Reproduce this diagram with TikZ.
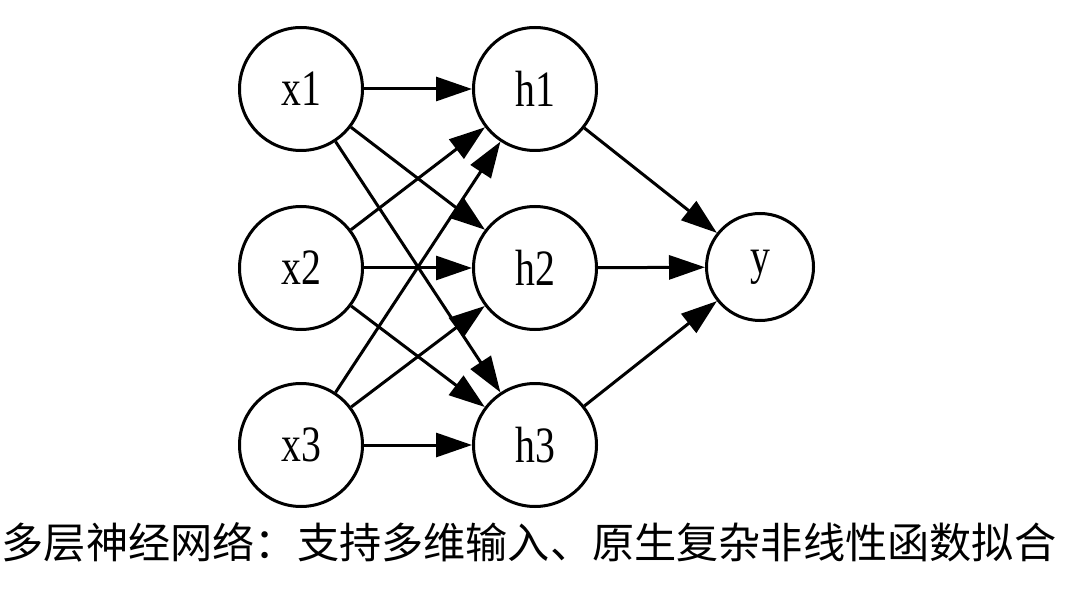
\documentclass[tikz,border=0pt]{standalone}
\usepackage{fontspec}
\setmainfont{Liberation Serif}
\newfontfamily\narrowserif[FakeStretch=0.78]{Liberation Serif}
\newfontfamily\cjk{Noto Sans CJK SC}
\usepackage{tikz}
\usetikzlibrary{arrows.meta,positioning}

\tikzset{
	neuron/.style={circle,draw,line width=0.06cm,minimum size=2.46cm,inner sep=0pt,
		font=\narrowserif\fontsize{29}{34}\selectfont},
	outneuron/.style={neuron,minimum size=2.14cm},
	edge/.style={line width=0.06cm,-{Triangle[length=0.72cm,width=0.48cm]}}
}

\begin{document}
\begin{tikzpicture}
	\useasboundingbox (0,0) rectangle (21.6,-11.9);
	% input layer
	\node[neuron] (x1) at (6.02,-1.78) {x1};
	\node[neuron] (x2) at (6.02,-5.36) {x2};
	\node[neuron] (x3) at (6.02,-8.9) {x3};
	% hidden layer
	\node[neuron] (h1) at (10.7,-1.78) {h1};
	\node[neuron] (h2) at (10.7,-5.36) {h2};
	\node[neuron] (h3) at (10.7,-8.9) {h3};
	% output
	\node[outneuron] (y) at (15.2,-5.34) {y};
	\node[inner sep=0pt,font=\cjk\fontsize{24}{29}\selectfont] (caption) at (10.58,-10.84) {多层神经网络：支持多维输入、原生复杂非线性函数拟合};
	\draw[edge] (x1)--(h1);
	\draw[edge] (x1)--(h2);
	\draw[edge] (x1)--(h3);
	\draw[edge] (x2)--(h1);
	\draw[edge] (x2)--(h2);
	\draw[edge] (x2)--(h3);
	\draw[edge] (x3)--(h1);
	\draw[edge] (x3)--(h2);
	\draw[edge] (x3)--(h3);
	\draw[edge] (h1)--(y);
	\draw[edge] (h2)--(y);
	\draw[edge] (h3)--(y);
\end{tikzpicture}
\end{document}
